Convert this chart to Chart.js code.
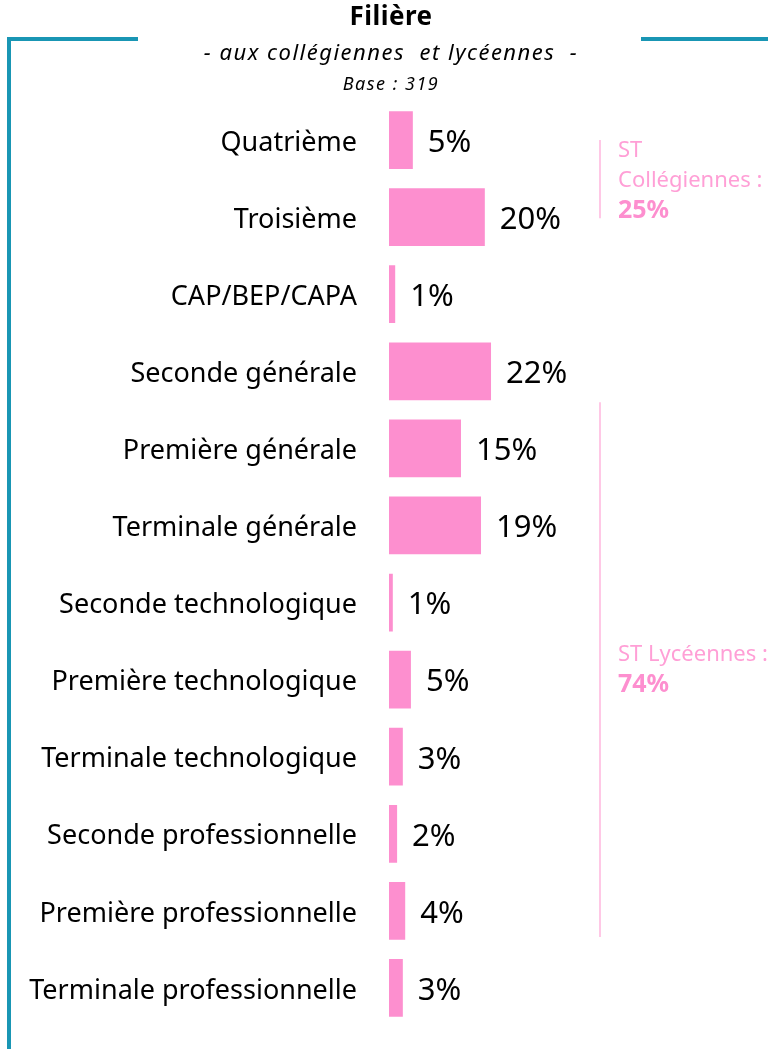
<!DOCTYPE html>
<html>
<head>
<meta charset="utf-8">
<script src="https://cdn.jsdelivr.net/npm/chart.js@4/dist/chart.umd.min.js"></script>
<style>
  html, body { margin: 0; padding: 0; background: #fff; }
  #wrap { width: 768px; height: 1049px; position: relative; }
</style>
</head>
<body>
<div id="wrap"><canvas id="filiereChart"></canvas></div>
<script>
// Data
const categories = [
    'Quatrième', 'Troisième', 'CAP/BEP/CAPA', 'Seconde générale',
    'Première générale', 'Terminale générale', 'Seconde technologique',
    'Première technologique', 'Terminale technologique',
    'Seconde professionnelle', 'Première professionnelle', 'Terminale professionnelle'
];
const shares = [5.0, 20.1, 1.3, 21.4, 15.1, 19.3, 0.8, 4.6, 2.9, 1.7, 3.4, 2.9];
const shareLabels = ['5%', '20%', '1%', '22%', '15%', '19%', '1%', '5%', '3%', '2%', '4%', '3%'];

const titleText = 'Filière';
const subtitleText = '- aux collégiennes  et lycéennes  -';
const baseText = 'Base : 319';

// Subtotal brackets: first / last category index, text lines
const groups = [
    { from: 0, to: 1, lines: ['ST', 'Collégiennes :'], total: '25%' },
    { from: 3, to: 11, lines: ['ST Lycéennes :'], total: '74%', textRow: 7 }
];

const FONT = '"Noto Sans", "Open Sans", sans-serif';
const PINK = '#fd8fcf';
const PINK_LIGHT = '#ff9fd6';
const TEAL = '#1996b4';

// Header, frame and group brackets
const decorPlugin = {
    id: 'decor',
    beforeDraw(chart) {
        const ctx = chart.ctx;
        ctx.save();
        ctx.fillStyle = TEAL;
        ctx.fillRect(7, 37, 131, 4);
        ctx.fillRect(641, 37, 127, 4);
        ctx.fillRect(7, 37, 4, 1012);

        ctx.fillStyle = '#000';
        ctx.textAlign = 'center';
        ctx.textBaseline = 'middle';
        ctx.letterSpacing = '0.5px';
        ctx.font = 'bold 26px ' + FONT;
        ctx.fillText(titleText, 391, 18);
        ctx.letterSpacing = '1.5px';
        ctx.font = 'italic 22px ' + FONT;
        ctx.fillText(subtitleText, 391, 54);
        ctx.letterSpacing = '1.5px';
        ctx.font = 'italic 18px ' + FONT;
        ctx.fillText(baseText, 391, 85);
        ctx.restore();
    },
    afterDatasetsDraw(chart) {
        const ctx = chart.ctx;
        const meta = chart.getDatasetMeta(0);
        ctx.save();

        // value labels
        ctx.fillStyle = '#000';
        ctx.font = '31px ' + FONT;
        ctx.textAlign = 'left';
        ctx.textBaseline = 'middle';
        meta.data.forEach((bar, i) => {
            ctx.fillText(shareLabels[i], bar.x + 15, bar.y + 3);
        });

        // brackets
        groups.forEach((g, k) => {
            const first = meta.data[g.from].y;
            const last = meta.data[g.to].y;
            ctx.strokeStyle = '#ffb6de';
            ctx.lineWidth = 1.5;
            ctx.beginPath();
            ctx.moveTo(600, k === 0 ? first : first + 31);
            ctx.lineTo(600, k === 0 ? last + 1 : last - 51);
            ctx.stroke();

            ctx.fillStyle = PINK_LIGHT;
            ctx.font = '22px ' + FONT;
            let y = k === 0 ? first + 11 : meta.data[g.textRow].y - 25;
            g.lines.forEach(line => {
                ctx.fillText(line, 618, y);
                y += 30;
            });
            ctx.fillStyle = PINK;
            ctx.font = 'bold 25px ' + FONT;
            ctx.fillText(g.total, 618, y);
        });
        ctx.restore();
    }
};

new Chart(document.getElementById('filiereChart'), {
    type: 'bar',
    data: {
        labels: categories,
        datasets: [{
            data: shares,
            backgroundColor: PINK,
            borderWidth: 0,
            barPercentage: 0.75,
            categoryPercentage: 1
        }]
    },
    options: {
        indexAxis: 'y',
        responsive: true,
        maintainAspectRatio: false,
        animation: false,
        layout: {
            padding: { top: 101.5, bottom: 22.5, left: 0, right: 0 }
        },
        plugins: {
            legend: { display: false },
            tooltip: { enabled: false }
        },
        scales: {
            x: {
                display: false,
                min: 0,
                max: 79.5
            },
            y: {
                grid: { display: false, drawTicks: false },
                border: { display: false },
                ticks: {
                    color: '#000',
                    padding: 32,
                    labelOffset: 3,
                    font: { family: FONT, size: 27 }
                },
                afterFit(scale) {
                    scale.width = 389;
                    scale.paddingTop = 0;
                    scale.paddingBottom = 0;
                }
            }
        }
    },
    plugins: [decorPlugin]
});
</script>
</body>
</html>
